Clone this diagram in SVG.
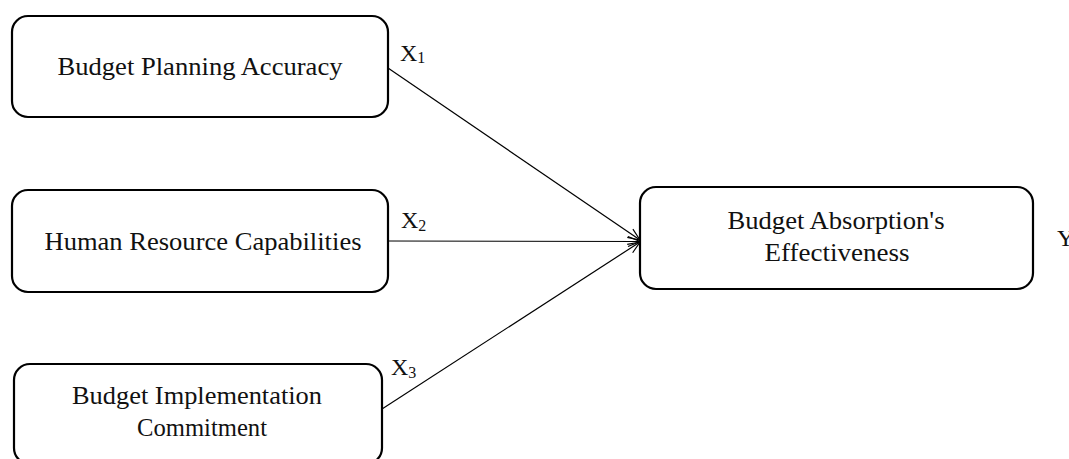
<svg xmlns="http://www.w3.org/2000/svg" width="1069" height="459" viewBox="0 0 1069 459">
<style>
.box{fill:#fff;stroke:#000;stroke-width:2.2}
.t{font-family:"Liberation Serif","Times New Roman",serif;font-size:25px;fill:#111;text-anchor:middle}
.lab{font-family:"Liberation Serif","Times New Roman",serif;font-size:24px;fill:#111}
.sub{font-size:16px}
.c{stroke:#000;stroke-width:1.2;fill:none;marker-end:url(#arr)}
</style>
<defs>
<marker id="arr" viewBox="0 0 14 12" refX="13" refY="6" markerWidth="14" markerHeight="12" markerUnits="userSpaceOnUse" orient="auto">
<path d="M1,1 L13,6 L1,11" fill="none" stroke="#000" stroke-width="1.2"/>
</marker>
</defs>
<rect width="1069" height="459" fill="#fff"/>
<g id="connectors">
<line class="c" x1="388" y1="68" x2="640" y2="240"/>
<line class="c" x1="388" y1="241" x2="640" y2="241.5"/>
<line class="c" x1="382" y1="409" x2="640" y2="242"/>
</g>
<g id="node-x1">
<rect class="box" x="12" y="16" width="376" height="101" rx="16"/>
<text class="t" x="200" y="75" textLength="285" lengthAdjust="spacingAndGlyphs">Budget Planning Accuracy</text>
<text class="lab" x="400" y="61">X<tspan class="sub" dy="2">1</tspan></text>
</g>
<g id="node-x2">
<rect class="box" x="12" y="190" width="376" height="102" rx="16"/>
<text class="t" x="203" y="250" textLength="317" lengthAdjust="spacingAndGlyphs">Human Resource Capabilities</text>
<text class="lab" x="401" y="228">X<tspan class="sub" dy="3">2</tspan></text>
</g>
<g id="node-x3">
<rect class="box" x="14" y="364" width="368" height="100" rx="16"/>
<text class="t" x="197" y="404" textLength="250" lengthAdjust="spacingAndGlyphs">Budget Implementation</text>
<text class="t" x="202" y="436" textLength="130" lengthAdjust="spacingAndGlyphs">Commitment</text>
<text class="lab" x="391" y="375">X<tspan class="sub" dy="3">3</tspan></text>
</g>
<g id="node-y">
<rect class="box" x="640" y="187" width="393" height="102" rx="16"/>
<text class="t" x="836" y="229" textLength="217" lengthAdjust="spacingAndGlyphs">Budget Absorption's</text>
<text class="t" x="837" y="261" textLength="145" lengthAdjust="spacingAndGlyphs">Effectiveness</text>
<text class="lab" x="1057" y="246">Y</text>
</g>
</svg>
